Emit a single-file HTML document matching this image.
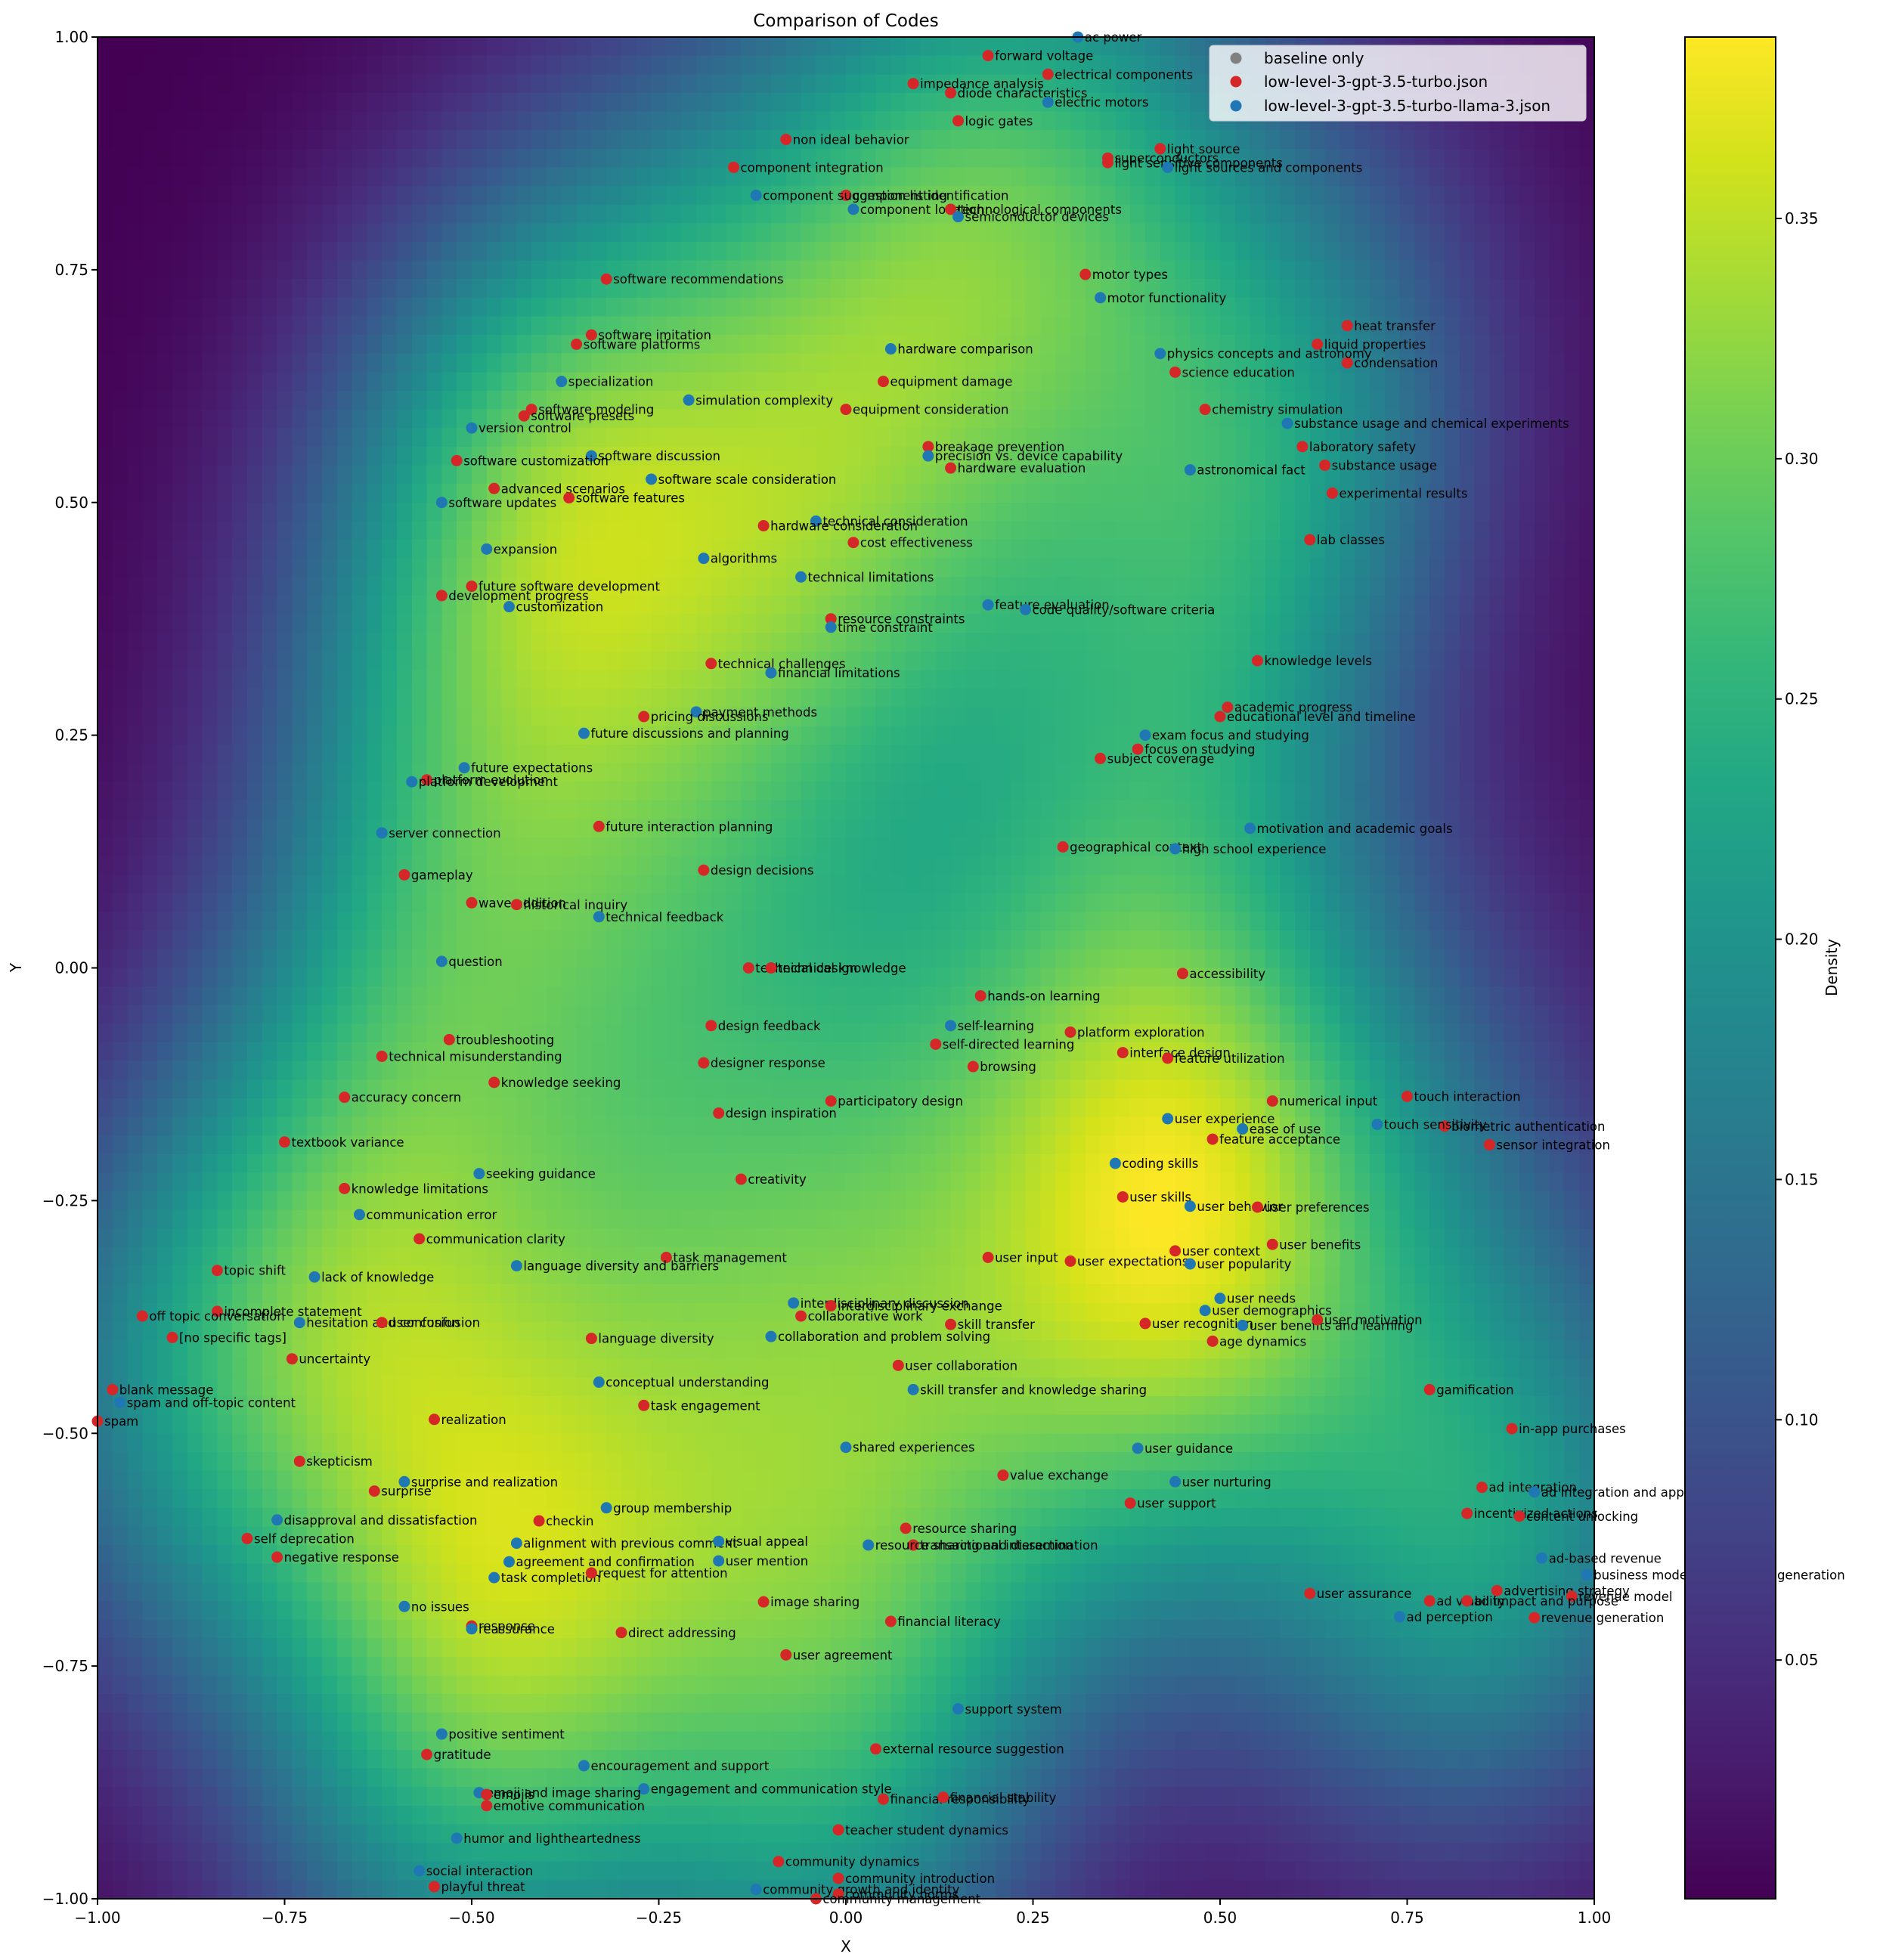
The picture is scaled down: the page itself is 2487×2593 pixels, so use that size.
<!DOCTYPE html>
<html><head><meta charset="utf-8"><style>
body{margin:0;background:#fff;}
#wrap{position:relative;width:2487px;height:2593px;overflow:hidden;font-family:"DejaVu Sans","Liberation Sans",sans-serif;}
#heat{position:absolute;left:129px;top:49px;width:1980px;height:2463px;image-rendering:pixelated;}
#ov{position:absolute;left:0;top:0;}
</style></head><body>
<div id="wrap">
<canvas id="heat" width="100" height="100"></canvas>
<svg id="ov" width="2487" height="2593" font-family="DejaVu Sans, Liberation Sans, sans-serif"></svg>
</div>
<script>
const seriesNames=["baseline only","low-level-3-gpt-3.5-turbo.json","low-level-3-gpt-3.5-turbo-llama-3.json"];
const ptX=[0.31,0.19,0.27,0.09,0.14,0.27,0.15,-0.08,0.42,0.35,0.35,0.43,-0.15,0.0,-0.12,0.01,0.14,0.15,-0.32,0.32,0.34,0.67,0.63,0.67,0.06,-0.34,-0.36,0.42,0.44,-0.38,0.05,-0.21,-0.42,-0.43,0.0,0.48,0.59,-0.50,0.61,0.11,0.11,-0.34,-0.52,0.64,0.14,0.46,-0.26,-0.47,0.65,-0.37,-0.54,-0.04,-0.11,0.62,0.01,-0.48,-0.19,-0.06,-0.50,-0.54,0.19,-0.45,0.24,-0.02,-0.02,0.55,-0.18,-0.10,0.51,0.50,-0.20,-0.27,-0.35,0.40,0.39,0.34,-0.51,-0.56,-0.58,-0.33,-0.62,0.54,0.29,0.44,-0.19,-0.59,-0.50,-0.44,-0.33,-0.54,-0.13,-0.10,0.45,0.18,0.14,-0.18,0.30,-0.53,0.12,-0.62,0.37,0.43,-0.19,0.17,-0.47,-0.67,-0.02,0.57,0.75,-0.17,0.43,0.80,0.71,0.53,0.49,-0.75,0.86,0.36,-0.49,-0.14,-0.67,0.37,0.46,0.55,-0.65,-0.57,0.57,0.44,-0.24,0.19,0.30,0.46,-0.84,-0.71,-0.44,0.50,-0.07,-0.02,0.48,-0.84,-0.94,-0.06,-0.73,-0.62,0.14,0.40,0.53,0.63,-0.90,-0.34,-0.10,0.49,-0.74,0.07,-0.98,0.09,-0.33,0.78,-0.97,-0.27,-1.0,-0.55,0.89,0.0,0.39,-0.73,0.21,-0.59,0.44,0.85,-0.63,0.92,-0.32,0.38,-0.76,-0.41,0.83,0.90,0.08,-0.80,-0.44,-0.17,0.09,0.03,-0.76,-0.45,-0.17,0.93,-0.47,-0.34,0.99,0.62,0.87,0.97,0.78,0.83,-0.59,-0.11,0.74,0.92,-0.50,-0.50,0.06,-0.30,-0.08,0.15,-0.54,0.04,-0.56,-0.35,-0.27,-0.49,-0.48,0.05,0.13,-0.48,-0.01,-0.52,-0.09,-0.57,-0.55,-0.01,-0.12,-0.01,-0.04];
const ptY=[1.0,0.98,0.96,0.95,0.94,0.93,0.91,0.89,0.88,0.87,0.865,0.86,0.86,0.83,0.83,0.815,0.815,0.807,0.74,0.745,0.72,0.69,0.67,0.65,0.665,0.68,0.67,0.66,0.64,0.63,0.63,0.61,0.60,0.593,0.60,0.60,0.585,0.58,0.56,0.56,0.55,0.55,0.545,0.54,0.537,0.535,0.525,0.515,0.51,0.505,0.50,0.48,0.475,0.46,0.457,0.45,0.44,0.42,0.41,0.40,0.39,0.388,0.385,0.375,0.366,0.33,0.327,0.317,0.28,0.27,0.275,0.27,0.252,0.25,0.235,0.225,0.215,0.202,0.20,0.152,0.145,0.15,0.13,0.128,0.105,0.10,0.07,0.068,0.055,0.007,0.0,0.0,-0.006,-0.03,-0.062,-0.062,-0.069,-0.077,-0.082,-0.095,-0.091,-0.097,-0.102,-0.106,-0.123,-0.139,-0.143,-0.143,-0.138,-0.156,-0.162,-0.17,-0.168,-0.173,-0.184,-0.187,-0.19,-0.21,-0.221,-0.227,-0.237,-0.246,-0.256,-0.257,-0.265,-0.291,-0.297,-0.304,-0.311,-0.311,-0.315,-0.318,-0.325,-0.332,-0.32,-0.355,-0.36,-0.363,-0.368,-0.369,-0.374,-0.374,-0.381,-0.381,-0.383,-0.382,-0.384,-0.378,-0.397,-0.398,-0.396,-0.401,-0.42,-0.427,-0.453,-0.453,-0.445,-0.453,-0.467,-0.47,-0.487,-0.485,-0.495,-0.515,-0.516,-0.53,-0.545,-0.552,-0.552,-0.558,-0.562,-0.563,-0.58,-0.575,-0.593,-0.594,-0.586,-0.589,-0.602,-0.613,-0.618,-0.616,-0.62,-0.62,-0.633,-0.638,-0.637,-0.634,-0.655,-0.65,-0.652,-0.672,-0.669,-0.675,-0.68,-0.68,-0.686,-0.681,-0.697,-0.698,-0.707,-0.71,-0.702,-0.714,-0.738,-0.796,-0.823,-0.839,-0.845,-0.857,-0.882,-0.886,-0.888,-0.893,-0.891,-0.90,-0.926,-0.935,-0.96,-0.97,-0.987,-0.978,-0.99,-0.995,-1.0];
const ptLabel=["ac power","forward voltage","electrical components","impedance analysis","diode characteristics","electric motors","logic gates","non ideal behavior","light source","superconductors","light sensitive components","light sources and components","component integration","component identification","component suggestion listing","component location","technological components","semiconductor devices","software recommendations","motor types","motor functionality","heat transfer","liquid properties","condensation","hardware comparison","software imitation","software platforms","physics concepts and astronomy","science education","specialization","equipment damage","simulation complexity","software modeling","software presets","equipment consideration","chemistry simulation","substance usage and chemical experiments","version control","laboratory safety","breakage prevention","precision vs. device capability","software discussion","software customization","substance usage","hardware evaluation","astronomical fact","software scale consideration","advanced scenarios","experimental results","software features","software updates","technical consideration","hardware consideration","lab classes","cost effectiveness","expansion","algorithms","technical limitations","future software development","development progress","feature evaluation","customization","code quality/software criteria","resource constraints","time constraint","knowledge levels","technical challenges","financial limitations","academic progress","educational level and timeline","payment methods","pricing discussions","future discussions and planning","exam focus and studying","focus on studying","subject coverage","future expectations","platform evolution","platform development","future interaction planning","server connection","motivation and academic goals","geographical context","high school experience","design decisions","gameplay","wave addition","historical inquiry","technical feedback","question","technical design","technical knowledge","accessibility","hands-on learning","self-learning","design feedback","platform exploration","troubleshooting","self-directed learning","technical misunderstanding","interface design","feature utilization","designer response","browsing","knowledge seeking","accuracy concern","participatory design","numerical input","touch interaction","design inspiration","user experience","biometric authentication","touch sensitivity","ease of use","feature acceptance","textbook variance","sensor integration","coding skills","seeking guidance","creativity","knowledge limitations","user skills","user behavior","user preferences","communication error","communication clarity","user benefits","user context","task management","user input","user expectations","user popularity","topic shift","lack of knowledge","language diversity and barriers","user needs","interdisciplinary discussion","interdisciplinary exchange","user demographics","incomplete statement","off topic conversation","collaborative work","hesitation and confusion","user confusion","skill transfer","user recognition","user benefits and learning","user motivation","[no specific tags]","language diversity","collaboration and problem solving","age dynamics","uncertainty","user collaboration","blank message","skill transfer and knowledge sharing","conceptual understanding","gamification","spam and off-topic content","task engagement","spam","realization","in-app purchases","shared experiences","user guidance","skepticism","value exchange","surprise and realization","user nurturing","ad integration","surprise","ad integration and app monetization","group membership","user support","disapproval and dissatisfaction","checkin","incentivized actions","content unlocking","resource sharing","self deprecation","alignment with previous comment","visual appeal","transactional interaction","resource sharing and dissemination","negative response","agreement and confirmation","user mention","ad-based revenue","task completion","request for attention","business model and revenue generation","user assurance","advertising strategy","revenue model","ad viability","ad impact and purpose","no issues","image sharing","ad perception","revenue generation","response","reassurance","financial literacy","direct addressing","user agreement","support system","positive sentiment","external resource suggestion","gratitude","encouragement and support","engagement and communication style","emoji and image sharing","emojis","financial responsibility","financial stability","emotive communication","teacher student dynamics","humor and lightheartedness","community dynamics","social interaction","playful threat","community introduction","community growth and identity","community norms","community management"];
const ptSeries=["brrrrbrrrr","rbrrbbrbrr","brrrbrrbrb","rbrrrrbbrr","bbrrrbbrrr","bbrrrbbbrr","bbbrbrrbrr","brbbrrbrbr","bbrbrrrrbb","rrrrbrrrrr","rrrrrrrrrr","brbbrrrbbr","rrbrbrrrrr","rbrbbbbrbr","rrbrrrbrrr","brrrrbbrbr","rrrbbrrbbr","rbbrbrrrrr","bbrbrbbbbr","brrrrrbrbr","rbrrrbbrrb","bbrrrrrbrb","rrbrr"].join("").split("");
const colorTicks=[0.05,0.10,0.15,0.20,0.25,0.30,0.35];
const axisTicks=[-1,-0.75,-0.5,-0.25,0,0.25,0.5,0.75,1];

const L=129,T=49,W=1980,H=2463;
const X=v=>L+(v+1)/2*W, Y=v=>T+(1-v)/2*H;
const vir=["#440154","#481a6c","#472f7d","#414487","#39568c","#31688e","#2a788e","#23888e","#1f988b","#22a884","#35b779","#54c568","#7ad151","#a5db36","#d2e21b","#fde725"];
function hex(h){return [parseInt(h.substr(1,2),16),parseInt(h.substr(3,2),16),parseInt(h.substr(5,2),16)];}
function viridis(t){t=Math.max(0,Math.min(1,t));const p=t*15,i=Math.min(14,Math.floor(p)),f=p-i;const a=hex(vir[i]),b=hex(vir[i+1]);return a.map((c,k)=>Math.round(c+(b[k]-c)*f));}
const n=ptX.length;
let mx=0,my=0;for(let i=0;i<n;i++){mx+=ptX[i];my+=ptY[i];}mx/=n;my/=n;
let sxx=0,syy=0,sxy=0;for(let i=0;i<n;i++){const dx=ptX[i]-mx,dy=ptY[i]-my;sxx+=dx*dx;syy+=dy*dy;sxy+=dx*dy;}
sxx/=(n-1);syy/=(n-1);sxy/=(n-1);
const fac=Math.pow(n,-1/6),f2=fac*fac;
const a=sxx*f2,d=syy*f2,b=sxy*f2,det=a*d-b*b;
const ia=d/det,id=a/det,ib=-b/det,norm=1/(2*Math.PI*Math.sqrt(det)*n);
const G=100,grid=[];let gmin=1e9,gmax=-1e9;
for(let r=0;r<G;r++){for(let c=0;c<G;c++){const x=-1+2*c/(G-1),y=1-2*r/(G-1);let s=0;
for(let i=0;i<n;i++){const dx=x-ptX[i],dy=y-ptY[i];s+=Math.exp(-0.5*(ia*dx*dx+2*ib*dx*dy+id*dy*dy));}
s*=norm;grid.push(s);gmin=Math.min(gmin,s);gmax=Math.max(gmax,s);}}
const cv=document.getElementById('heat'),ctx=cv.getContext('2d'),img=ctx.createImageData(G,G);
for(let k=0;k<G*G;k++){const col=viridis((grid[k]-gmin)/(gmax-gmin));img.data[4*k]=col[0];img.data[4*k+1]=col[1];img.data[4*k+2]=col[2];img.data[4*k+3]=255;}
ctx.putImageData(img,0,0);

const svg=document.getElementById('ov'),NS="http://www.w3.org/2000/svg";
function mk(tag,attrs,parent){const e=document.createElementNS(NS,tag);for(const k in attrs)e.setAttribute(k,attrs[k]);(parent||svg).appendChild(e);return e;}
const fmt=v=>(v<0?"\u2212":"")+Math.abs(v).toFixed(2);
const pts=mk('g',{});


for(let i=0;i<n;i++){
 const c=mk('circle',{cx:X(ptX[i]),cy:Y(ptY[i]),r:7.5,fill:ptSeries[i]==='r'?'#d62728':'#1f77b4'},pts);
 
 
 const t=mk('text',{x:X(ptX[i])+9,y:Y(ptY[i])+6,'font-size':16.5,fill:'#000'},pts);
 t.textContent=ptLabel[i];
 
 
}
const fr=mk('rect',{x:L,y:T,width:W,height:H,fill:'none',stroke:'#000','stroke-width':2});


for(const v of axisTicks){
 const xl=mk('line',{x1:X(v),x2:X(v),y1:T+H,y2:T+H+8,stroke:'#000','stroke-width':2});
 
 
 const xt=mk('text',{x:X(v),y:T+H+32,'font-size':20,'text-anchor':'middle'});
 xt.textContent=fmt(v);
 
 
 const yl=mk('line',{x1:L-8,x2:L,y1:Y(v),y2:Y(v),stroke:'#000','stroke-width':2});
 
 
 const yt=mk('text',{x:L-12,y:Y(v)+7,'font-size':20,'text-anchor':'end'});
 yt.textContent=fmt(v);
 
 
}
const defs=mk('defs',{});const lg=mk('linearGradient',{id:'vg',x1:0,y1:1,x2:0,y2:0},defs);
vir.forEach((c,i)=>mk('stop',{offset:i/15,'stop-color':c},lg));
const CX=2229,CW=120;
const cb=mk('rect',{x:CX,y:T,width:CW,height:H,fill:'url(#vg)',stroke:'#000','stroke-width':2});


for(const v of colorTicks){
 const yy=T+H-(v-gmin)/(gmax-gmin)*H;
 const l=mk('line',{x1:CX+CW,x2:CX+CW+8,y1:yy,y2:yy,stroke:'#000','stroke-width':2});
 
 
 const t=mk('text',{x:CX+CW+12,y:yy+7,'font-size':20});
 t.textContent=v.toFixed(2);
 
 
}
</script>
<svg style="position:absolute;left:0;top:0" width="2487" height="2593" font-family="DejaVu Sans, Liberation Sans, sans-serif">
<text x="1119" y="35" font-size="23" text-anchor="middle">Comparison of Codes</text>
<text x="1119" y="2582" font-size="20" text-anchor="middle">X</text>
<text x="28" y="1280" font-size="20" text-anchor="middle" transform="rotate(-90 28 1280)">Y</text>
<text x="2430" y="1280" font-size="20" text-anchor="middle" transform="rotate(-90 2430 1280)">Density</text>
<g>
<rect x="1600" y="60" width="498" height="100" rx="5" fill="#fff" fill-opacity="0.8" stroke="#ccc"/>
<circle cx="1635" cy="77" r="7.5" fill="#808080"/>
<text x="1672" y="84" font-size="20">baseline only</text>
<circle cx="1635" cy="108" r="7.5" fill="#d62728"/>
<text x="1672" y="115" font-size="20">low-level-3-gpt-3.5-turbo.json</text>
<circle cx="1635" cy="140" r="7.5" fill="#1f77b4"/>
<text x="1672" y="147" font-size="20">low-level-3-gpt-3.5-turbo-llama-3.json</text>
</g>
</svg>
</body></html>
